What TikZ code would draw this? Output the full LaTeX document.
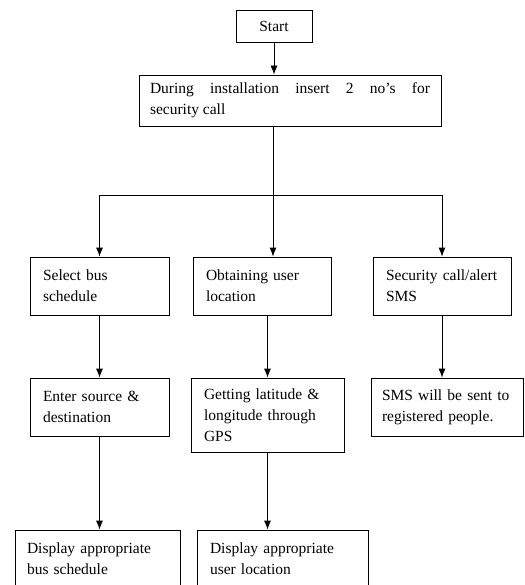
\documentclass[tikz,border=0pt]{standalone}
\usepackage{fontspec}
\setmainfont{Liberation Serif}
\usetikzlibrary{arrows.meta}
\tikzset{
    > = {Latex[length=9pt, width=7pt]},
    box/.style = {draw, rectangle, line width = 0.8pt, inner xsep = 13pt,
        align = left, font = \fontsize{15.5}{21}\selectfont},
    flow/.style = {->, line width = 0.8pt}
}

\begin{document}
\begin{tikzpicture}[x = 1pt, y = -1pt]
    \useasboundingbox (0, 0) rectangle (524, 585);
    \clip (0, 0) rectangle (524, 585);

    \node[box, align = center, minimum width = 76pt, minimum height = 32pt] (start) at (274, 26) {Start};
    \node[box, inner xsep = 11pt, align = justify, text width = 280pt, minimum height = 51pt] (install) at (290, 100.5)
        {During installation insert 2 no's for\linebreak security call};

    \node[box, text width = 113pt, minimum height = 58pt] (select) at (99.5, 286) {Select bus\\schedule};
    \node[box, text width = 112pt, minimum height = 58pt] (obtain) at (262, 286) {Obtaining user\\location};
    \node[box, text width = 112pt, minimum height = 58pt] (alert) at (442, 286) {Security call/alert\\SMS};

    \node[box, text width = 113pt, minimum height = 58pt] (enter) at (99.5, 407) {Enter source \&\\destination};
    \node[box, text width = 127pt, minimum height = 74pt] (gps) at (267.5, 415) {Getting latitude \&\\longitude through\\GPS};
    \node[box, inner xsep = 11pt, text width = 130pt, minimum height = 58pt] (sms) at (447, 407) {SMS will be sent to\\registered people.};

    \node[box, inner xsep = 12pt, text width = 141pt, minimum height = 58pt] (showbus) at (97.5, 559) {Display appropriate\\bus schedule};
    \node[box, text width = 145pt, minimum height = 58pt] (showloc) at (282.5, 559) {Display appropriate\\user location};

    \coordinate (split) at (273, 195);

    \draw[flow] (start) -- (start |- install.north);
    \draw[line width = 0.8pt] (split |- install.south) -- (split);
    \draw[flow] (split) -| (select.north);
    \draw[flow] (split) -- (split |- obtain.north);
    \draw[flow] (split) -| (alert.north);

    \draw[flow] (select) -- (enter);
    \draw[flow] (gps.north |- obtain.south) -- (gps.north);
    \draw[flow] (alert.south) -- (alert.south |- sms.north);

    \draw[flow] (enter.south) -- (enter.south |- showbus.north);
    \draw[flow] (gps.south) -- (gps.south |- showloc.north);
\end{tikzpicture}
\end{document}
